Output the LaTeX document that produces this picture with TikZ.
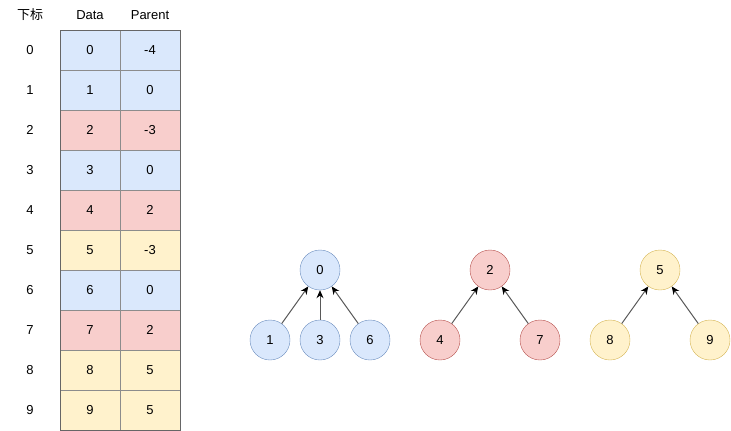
\documentclass[tikz,border=0pt]{standalone}
\usepackage{fontspec}
\setmainfont{Liberation Sans}
\newfontfamily\cjk{Noto Sans CJK SC}
\usetikzlibrary{arrows.meta,positioning}
\definecolor{ufblue}{HTML}{DAE8FC}
\definecolor{ufbluedraw}{HTML}{6C8EBF}
\definecolor{ufred}{HTML}{F8CECC}
\definecolor{ufreddraw}{HTML}{B85450}
\definecolor{ufyellow}{HTML}{FFF2CC}
\definecolor{ufyellowdraw}{HTML}{D6B656}
\definecolor{ufgrid}{HTML}{8C8C8C}

\begin{document}
\begin{tikzpicture}[
    x=1pt, y=-1pt,
    every node/.style={font=\fontsize{13}{15}\selectfont},
    cell/.style={draw=ufgrid, minimum width=60pt, minimum height=40pt, inner sep=0pt},
    setnode/.style={circle, draw, minimum size=40pt, inner sep=0pt},
    bluenode/.style={setnode, fill=ufblue, draw=ufbluedraw},
    rednode/.style={setnode, fill=ufred, draw=ufreddraw},
    yellownode/.style={setnode, fill=ufyellow, draw=ufyellowdraw},
    uparrow/.style={-{Stealth[length=8pt,width=7pt,black]}, draw=black!65, line width=1pt}
]
    \useasboundingbox (0,0) rectangle (731,431);

    % header
    \node (hidx) at (30,15) {\cjk 下标};
    \node (hdata) at (90,15) {Data};
    \node (hpar) at (150,15) {Parent};

    % array rows
    \foreach \i/\p/\c in {0/-4/ufblue,1/0/ufblue,2/-3/ufred,3/0/ufblue,4/2/ufred,
                          5/-3/ufyellow,6/0/ufblue,7/2/ufred,8/5/ufyellow,9/5/ufyellow}{
        \node (idx\i) at (30,50+40*\i) {\i};
        \node[cell, fill=\c] (data\i) at (90,50+40*\i) {\i};
        \node[cell, fill=\c] (par\i) at (150,50+40*\i) {\p};
    }
    \draw[black!60] (data0.north west) rectangle (par9.south east);

    % tree rooted at 0
    \node[bluenode] (t0) at (320,270) {0};
    \node[bluenode, on grid, below=70pt of t0] (t3) {3};
    \node[bluenode, on grid, left=50pt of t3] (t1) {1};
    \node[bluenode, on grid, right=50pt of t3] (t6) {6};

    % tree rooted at 2
    \node[rednode] (t2) at (490,270) {2};
    \node[rednode, on grid, below left=70pt and 50pt of t2] (t4) {4};
    \node[rednode, on grid, below right=70pt and 50pt of t2] (t7) {7};

    % tree rooted at 5
    \node[yellownode] (t5) at (660,270) {5};
    \node[yellownode, on grid, below left=70pt and 50pt of t5] (t8) {8};
    \node[yellownode, on grid, below right=70pt and 50pt of t5] (t9) {9};

    \draw[uparrow] (t1) -- (t0);
    \draw[uparrow] (t3) -- (t0);
    \draw[uparrow] (t6) -- (t0);
    \draw[uparrow] (t4) -- (t2);
    \draw[uparrow] (t7) -- (t2);
    \draw[uparrow] (t8) -- (t5);
    \draw[uparrow] (t9) -- (t5);
\end{tikzpicture}
\end{document}
